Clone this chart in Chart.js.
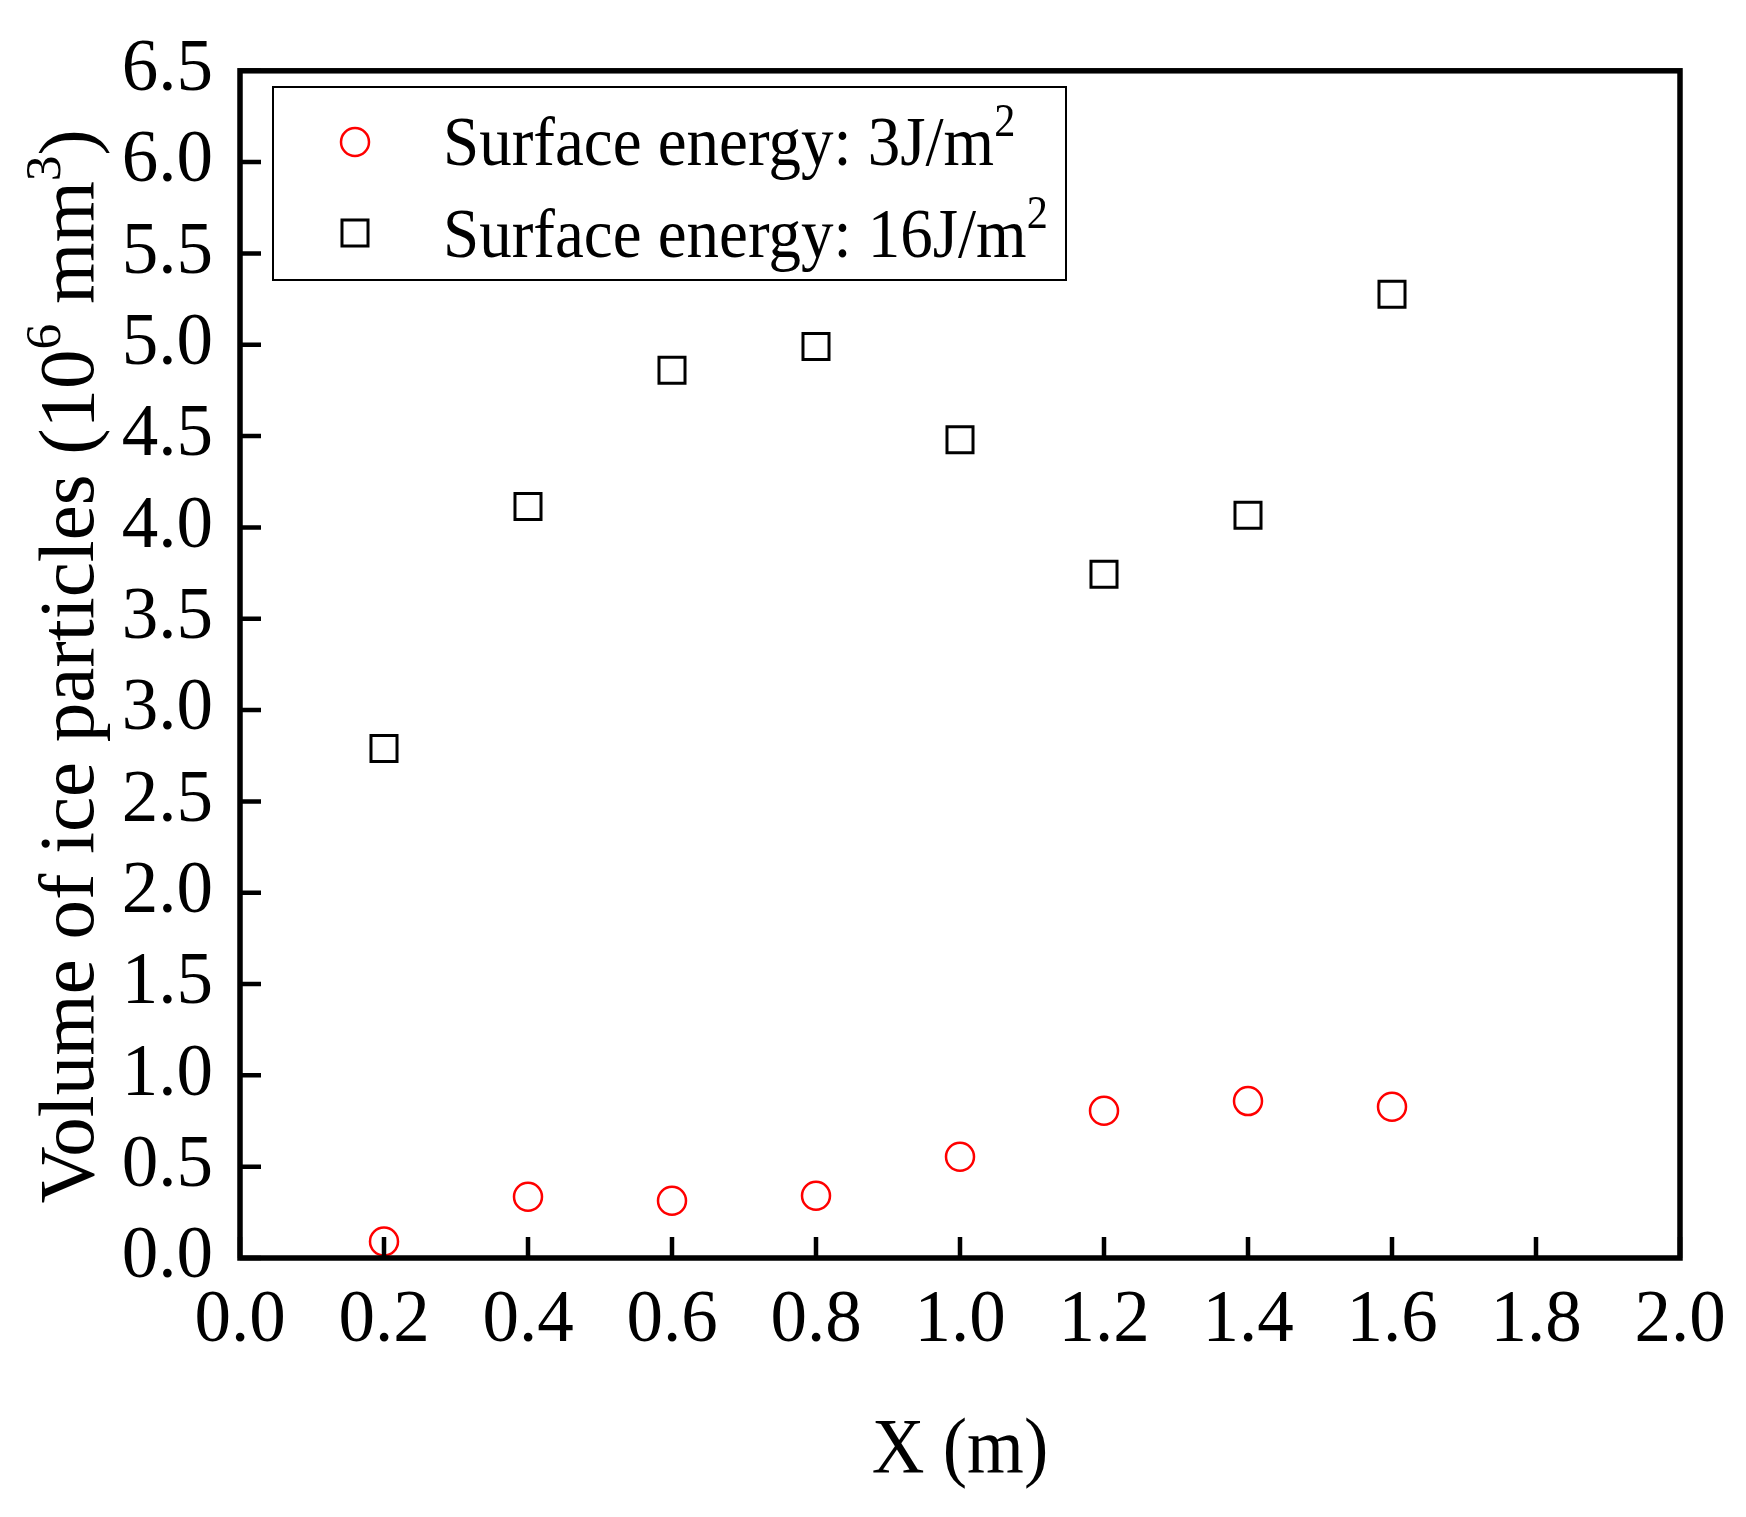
<!DOCTYPE html>
<html>
<head>
<meta charset="utf-8">
<script src="https://cdn.jsdelivr.net/npm/chart.js@4.4.0/dist/chart.umd.min.js"></script>
<style>
  html, body { margin: 0; padding: 0; background: #fff; }
  #wrap { width: 1746px; height: 1517px; }
</style>
</head>
<body>
<div id="wrap"><canvas id="chart" width="1746" height="1517"></canvas></div>
<script>
// positions along the pipe (m)
const xPositions = [0.2, 0.4, 0.6, 0.8, 1.0, 1.2, 1.4, 1.6];
// volume of ice particles, 10^6 mm^3
const energy3 = [0.09, 0.335, 0.313, 0.341, 0.554, 0.806, 0.859, 0.828];
const energy16 = [2.79, 4.114, 4.861, 4.99, 4.48, 3.743, 4.067, 5.277];
const seriesNames = ["Surface energy: 3J/m", "Surface energy: 16J/m"];

const FONT = "'Liberation Serif', 'Times New Roman', serif";

const toPoints = (ys) => xPositions.map((x, i) => ({ x, y: ys[i] }));

// frame + inward ticks on left and bottom
const framePlugin = {
  id: "frame",
  afterDatasetsDraw(chart) {
    const { ctx, chartArea: a, scales } = chart;
    ctx.save();
    ctx.strokeStyle = "#000";
    ctx.lineWidth = 4.5;
    ctx.beginPath();
    scales.x.ticks.forEach((t) => {
      const px = scales.x.getPixelForValue(t.value);
      ctx.moveTo(px, a.bottom);
      ctx.lineTo(px, a.bottom - 21);
    });
    scales.y.ticks.forEach((t) => {
      const py = scales.y.getPixelForValue(t.value);
      ctx.moveTo(a.left, py);
      ctx.lineTo(a.left + 21, py);
    });
    ctx.stroke();
    ctx.lineWidth = 5.5;
    ctx.strokeRect(a.left, a.top, a.right - a.left, a.bottom - a.top);
    ctx.restore();
  },
};

// text with superscripts, sy stretches glyphs vertically around the baseline
function textWithSup(ctx, parts, x, y, size, sy) {
  ctx.save();
  ctx.translate(x, y);
  ctx.scale(1, sy || 1);
  let cx = 0;
  parts.forEach(([txt, sup]) => {
    ctx.font = `${sup ? size * 0.65 : size}px ${FONT}`;
    ctx.fillText(txt, cx, sup ? -size * 0.42 : 0);
    cx += ctx.measureText(txt).width;
  });
  ctx.restore();
}
function partsWidth(ctx, parts, size) {
  let w = 0;
  parts.forEach(([txt, sup]) => {
    ctx.font = `${sup ? size * 0.65 : size}px ${FONT}`;
    w += ctx.measureText(txt).width;
  });
  return w;
}

const labelsPlugin = {
  id: "labels",
  afterDraw(chart) {
    const { ctx, chartArea: a } = chart;
    ctx.save();
    ctx.fillStyle = "#000";
    ctx.textBaseline = "alphabetic";
    ctx.textAlign = "left";

    // x title
    const xt = [["X (m)", false]];
    const xw = partsWidth(ctx, xt, 73);
    textWithSup(ctx, xt, (a.left + a.right) / 2 - xw / 2, 1472, 73, 1.08);

    // y title, rotated
    const yt = [["Volume of ice particles (10", false], ["6", true], [" mm", false], ["3", true], [")", false]];
    const yw = partsWidth(ctx, yt, 79);
    ctx.save();
    ctx.translate(93, (a.top + a.bottom) / 2 + 2);
    ctx.rotate(-Math.PI / 2);
    textWithSup(ctx, yt, -yw / 2, 0, 79);
    ctx.restore();

    // legend box
    const lx = 273, ly = 87, lw = 793, lh = 193;
    ctx.fillStyle = "#fff";
    ctx.fillRect(lx, ly, lw, lh);
    ctx.strokeStyle = "#000";
    ctx.lineWidth = 2;
    ctx.strokeRect(lx, ly, lw, lh);

    const ds = chart.data.datasets;
    // circle marker
    ctx.strokeStyle = ds[0].borderColor;
    ctx.lineWidth = ds[0].borderWidth;
    ctx.beginPath();
    ctx.arc(355, 142, ds[0].pointRadius, 0, Math.PI * 2);
    ctx.stroke();
    // square marker
    const half = ds[1].pointRadius * Math.SQRT1_2;
    ctx.strokeStyle = ds[1].borderColor;
    ctx.lineWidth = ds[1].borderWidth;
    ctx.strokeRect(355 - half, 233 - half, half * 2, half * 2);

    ctx.fillStyle = "#000";
    textWithSup(ctx, [[seriesNames[0], false], ["2", true]], 443, 165, 65, 1.08);
    textWithSup(ctx, [[seriesNames[1], false], ["2", true]], 443, 257, 65, 1.08);
    ctx.restore();
  },
};

const tickFont = { family: FONT, size: 73 };

new Chart(document.getElementById("chart"), {
  type: "scatter",
  data: {
    datasets: [
      {
        label: seriesNames[0],
        data: toPoints(energy3),
        pointStyle: "circle",
        pointRadius: 14,
        pointHoverRadius: 14,
        borderWidth: 2.5,
        borderColor: "#ff0000",
        backgroundColor: "rgba(0,0,0,0)",
      },
      {
        label: seriesNames[1],
        data: toPoints(energy16),
        pointStyle: "rect",
        pointRadius: 18.4,
        pointHoverRadius: 18.4,
        borderWidth: 3,
        borderColor: "#000000",
        backgroundColor: "rgba(0,0,0,0)",
      },
    ],
  },
  options: {
    responsive: false,
    animation: false,
    devicePixelRatio: 1,
    layout: { padding: { left: 0, top: 69, right: 66, bottom: 0 } },
    plugins: {
      legend: { display: false },
      tooltip: { enabled: false },
    },
    scales: {
      x: {
        type: "linear",
        min: 0,
        max: 2,
        grid: { display: false, drawTicks: false },
        border: { display: false },
        ticks: {
          stepSize: 0.2,
          autoSkip: false,
          maxRotation: 0,
          padding: 20,
          color: "#000",
          font: tickFont,
          callback: (v) => v.toFixed(1),
        },
        afterFit: (s) => { s.height = 259; },
      },
      y: {
        type: "linear",
        min: 0,
        max: 6.5,
        grid: { display: false, drawTicks: false },
        border: { display: false },
        ticks: {
          stepSize: 0.5,
          autoSkip: false,
          padding: 27,
          color: "#000",
          font: tickFont,
          callback: (v) => v.toFixed(1),
        },
        afterFit: (s) => { s.width = 240; },
      },
    },
  },
  plugins: [framePlugin, labelsPlugin],
});
</script>
</body>
</html>
